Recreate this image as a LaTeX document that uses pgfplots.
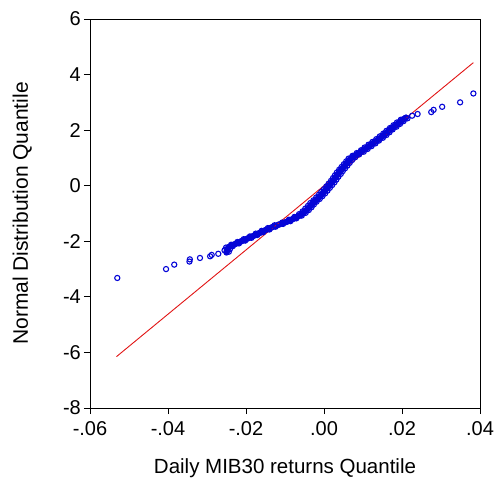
\documentclass[border=0pt]{standalone}
\usepackage{pgfplots}
\usepackage{pgfplotstable}
\pgfplotsset{compat=1.18}
\usepackage{fontspec}
\setmainfont{Liberation Sans}
\definecolor{qqblue}{RGB}{5,5,215}
\definecolor{qqred}{RGB}{225,20,20}
% sparse tails of the sample
\pgfplotstableread{
x y
-0.0530 -3.32
-0.0405 -3.00
-0.0384 -2.84
-0.0345 -2.73
-0.0344 -2.65
-0.0318 -2.60
-0.0292 -2.54
-0.0288 -2.49
-0.0271 -2.45
0.0226 2.52
0.0240 2.58
0.0275 2.65
0.0281 2.73
0.0303 2.84
0.0349 3.00
0.0383 3.32
}\tails
% dense middle of the sample
\pgfplotstableread{
x y
-0.0250 -2.40
-0.0249 -2.35
-0.0248 -2.30
-0.0246 -2.25
-0.0243 -2.20
-0.0236 -2.15
-0.0228 -2.10
-0.0220 -2.05
-0.0212 -2.00
-0.0204 -1.95
-0.0196 -1.90
-0.0188 -1.85
-0.0180 -1.80
-0.0173 -1.75
-0.0165 -1.70
-0.0158 -1.65
-0.0150 -1.60
-0.0142 -1.55
-0.0134 -1.50
-0.0125 -1.45
-0.0116 -1.40
-0.0106 -1.35
-0.0096 -1.30
-0.0088 -1.25
-0.0080 -1.20
-0.0073 -1.15
-0.0066 -1.10
-0.0060 -1.05
-0.0055 -1.00
-0.0051 -0.95
-0.0047 -0.90
-0.0043 -0.85
-0.0040 -0.80
-0.0036 -0.75
-0.0033 -0.70
-0.0030 -0.65
-0.0027 -0.60
-0.0023 -0.55
-0.0019 -0.50
-0.0015 -0.45
-0.0012 -0.40
-0.0008 -0.35
-0.0005 -0.30
-0.0002 -0.25
0.0001 -0.20
0.0004 -0.15
0.0007 -0.10
0.0010 -0.05
0.0013 0.00
0.0016 0.05
0.0019 0.10
0.0022 0.15
0.0025 0.20
0.0027 0.25
0.0030 0.30
0.0032 0.35
0.0035 0.40
0.0038 0.45
0.0040 0.50
0.0043 0.55
0.0046 0.60
0.0049 0.65
0.0052 0.70
0.0055 0.75
0.0058 0.80
0.0061 0.85
0.0064 0.90
0.0067 0.95
0.0071 1.00
0.0076 1.05
0.0081 1.10
0.0087 1.15
0.0093 1.20
0.0098 1.25
0.0103 1.30
0.0108 1.35
0.0113 1.40
0.0118 1.45
0.0123 1.50
0.0128 1.55
0.0133 1.60
0.0138 1.65
0.0143 1.70
0.0147 1.75
0.0152 1.80
0.0156 1.85
0.0160 1.90
0.0164 1.95
0.0168 2.00
0.0172 2.05
0.0177 2.10
0.0182 2.15
0.0186 2.20
0.0191 2.25
0.0195 2.30
0.0200 2.35
0.0205 2.40
0.0210 2.45
}\band
\pgfplotstableread{
x y
-0.0244 -2.375
-0.0255 -2.325
-0.0241 -2.275
-0.0251 -2.225
-0.0234 -2.175
-0.0238 -2.125
-0.0218 -2.075
-0.0222 -2.025
-0.0202 -1.975
-0.0206 -1.925
-0.0186 -1.875
-0.0190 -1.825
-0.0171 -1.775
-0.0175 -1.725
-0.0156 -1.675
-0.0160 -1.625
-0.0140 -1.575
-0.0144 -1.525
-0.0124 -1.475
-0.0127 -1.425
-0.0105 -1.375
-0.0107 -1.325
-0.0086 -1.275
-0.0090 -1.225
-0.0071 -1.175
-0.0076 -1.125
-0.0057 -1.075
-0.0064 -1.025
-0.0047 -0.975
-0.0055 -0.925
-0.0039 -0.875
-0.0048 -0.825
-0.0032 -0.775
-0.0041 -0.725
-0.0026 -0.675
-0.0035 -0.625
-0.0019 -0.575
-0.0027 -0.525
-0.0011 -0.475
-0.0020 -0.425
-0.0004 -0.375
-0.0013 -0.325
0.0003 -0.275
-0.0007 -0.225
0.0009 -0.175
0.0000 -0.125
0.0015 -0.075
0.0006 -0.025
0.0021 0.025
0.0012 0.075
0.0027 0.125
0.0018 0.175
0.0032 0.225
0.0023 0.275
0.0037 0.325
0.0028 0.375
0.0043 0.425
0.0033 0.475
0.0048 0.525
0.0039 0.575
0.0054 0.625
0.0045 0.675
0.0060 0.725
0.0051 0.775
0.0066 0.825
0.0057 0.875
0.0072 0.925
0.0063 0.975
0.0080 1.025
0.0073 1.075
0.0090 1.125
0.0084 1.175
0.0102 1.225
0.0095 1.275
0.0112 1.325
0.0104 1.375
0.0122 1.425
0.0114 1.475
0.0132 1.525
0.0124 1.575
0.0141 1.625
0.0134 1.675
0.0151 1.725
0.0143 1.775
0.0160 1.825
0.0152 1.875
0.0168 1.925
0.0160 1.975
0.0176 2.025
0.0169 2.075
0.0186 2.125
0.0178 2.175
0.0195 2.225
0.0187 2.275
0.0204 2.325
0.0197 2.375
0.0214 2.425
}\bandmid
\begin{document}
\begin{tikzpicture}
\begin{axis}[
  scale only axis,
  width=390pt, height=389pt,
  xmin=-0.06, xmax=0.04,
  ymin=-8, ymax=6,
  xtick={-0.06,-0.04,-0.02,0,0.02,0.04},
  xticklabels={-.06,-.04,-.02,.00,.02,.04},
  ytick={-8,-6,-4,-2,0,2,4,6},
  yticklabels={-8,-6,-4,-2,0,2,4,6},
  scaled x ticks=false,
  tick align=outside,
  xtick pos=bottom, ytick pos=left,
  major tick length=6pt,
  axis line style={line width=0.9pt},
  every tick/.style={line width=0.9pt, black},
  tick label style={font=\fontsize{20}{24}\selectfont, inner sep=1pt},
  xticklabel style={yshift=-6pt},
  yticklabel style={xshift=-2pt},
  xlabel={Daily MIB30 returns Quantile},
  ylabel={Normal Distribution Quantile},
  xlabel style={font=\fontsize{20.5}{24}\selectfont, at={(axis description cs:0.5,-0.1671)}, anchor=base, inner sep=0pt},
  ylabel style={font=\fontsize{21}{24}\selectfont, at={(axis description cs:-0.1487,0.5)}, anchor=south, inner sep=0pt},
  clip=false,
  qq/.style={only marks, mark=o, mark size=2.6pt, qqblue, mark options={line width=1.1pt}},
]
% overlapping circles in the middle merge into a solid band
\addplot[qqblue, line width=6pt, line join=round, line cap=round] table {\band};
\addplot[qq] table {\band};
\addplot[qq] table {\bandmid};
\addplot[qq] table {\tails};
% reference line of the normal distribution
\addplot[qqred, line width=0.9pt] coordinates {(-0.0532,-6.15) (0.0383,4.43)};
\end{axis}
\pgfresetboundingbox
\path[use as bounding box] ([shift={(-90pt,-74pt)}]current axis.south west) rectangle ([shift={(21pt,19pt)}]current axis.north east);
\end{tikzpicture}
\end{document}
